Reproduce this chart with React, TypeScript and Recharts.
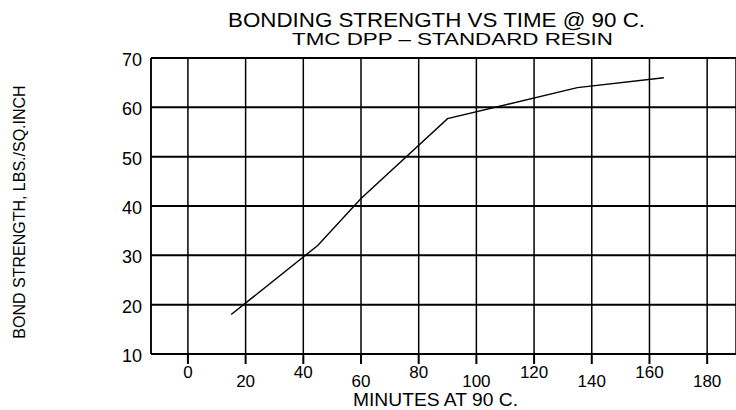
import { CartesianGrid, Line, LineChart, XAxis, YAxis } from 'recharts';

const minutes = [15, 45, 60, 90, 135, 165];
const strength = [18, 32, 41.5, 57.7, 64, 66];
const xTicks = [0, 20, 40, 60, 80, 100, 120, 140, 160, 180];
const yTicks = [10, 20, 30, 40, 50, 60, 70];

const data = minutes.map((m, i) => ({ minutes: m, strength: strength[i] }));

const font = '"Liberation Sans", Arial, sans-serif';

function XTick({ x, y, payload, index }: any) {
  // labels alternate up / down like the original print
  const low = index % 2 === 1;
  return (
    <text x={x} y={y + (low ? 21 : 12)} textAnchor="middle" fontFamily={font} fontSize={17} fill="#000">
      {payload.value}
    </text>
  );
}

function YTick({ x, y, payload }: any) {
  return (
    <text x={x} y={y + 8} textAnchor="end" fontFamily={font} fontSize={18} fill="#000">
      {payload.value}
    </text>
  );
}

export default function App() {
  return (
    <div style={{ position: 'absolute', left: 0, top: 0, width: 736, height: 410, background: '#fff' }}>
      <LineChart width={736} height={410} data={data} margin={{ top: 58, right: 0, bottom: 0, left: 0 }}>
        <CartesianGrid horizontal={true} vertical={false} stroke="#000" strokeWidth={2} />
        <CartesianGrid horizontal={false} vertical={true} stroke="#000" strokeWidth={1.5} />
        <XAxis
          type="number"
          dataKey="minutes"
          domain={[-12.8, 190]}
          ticks={xTicks}
          allowDataOverflow
          height={56}
          tickSize={10}
          tickMargin={2}
          stroke="#000"
          strokeWidth={2}
          tick={<XTick />}
          interval={0}
        />
        <YAxis
          type="number"
          domain={[10, 70]}
          ticks={yTicks}
          width={151}
          tickLine={false}
          tickMargin={3}
          stroke="#000"
          strokeWidth={1.5}
          tick={<YTick />}
          interval={0}
        />
        <Line
          type="linear"
          dataKey="strength"
          stroke="#000"
          strokeWidth={1.4}
          dot={false}
          isAnimationActive={false}
        />
      </LineChart>
      <svg
        width={736}
        height={410}
        style={{ position: 'absolute', left: 0, top: 0, pointerEvents: 'none' }}
      >
        <text x={228} y={27} fontFamily={font} fontSize={20} textLength={417} lengthAdjust="spacingAndGlyphs" fill="#000">
          BONDING STRENGTH VS TIME @ 90 C.
        </text>
        <text x={292} y={45} fontFamily={font} fontSize={17} textLength={321} lengthAdjust="spacingAndGlyphs" fill="#000">
          TMC DPP – STANDARD RESIN
        </text>
        <text x={353} y={406} fontFamily={font} fontSize={18} textLength={165} lengthAdjust="spacingAndGlyphs" fill="#000">
          MINUTES AT 90 C.
        </text>
        <text
          x={19}
          y={212}
          transform="rotate(-90, 19, 212)"
          textAnchor="middle"
          dominantBaseline="central"
          fontFamily={font}
          fontSize={16}
          fill="#000"
        >
          BOND STRENGTH, LBS./SQ.INCH
        </text>
      </svg>
    </div>
  );
}
